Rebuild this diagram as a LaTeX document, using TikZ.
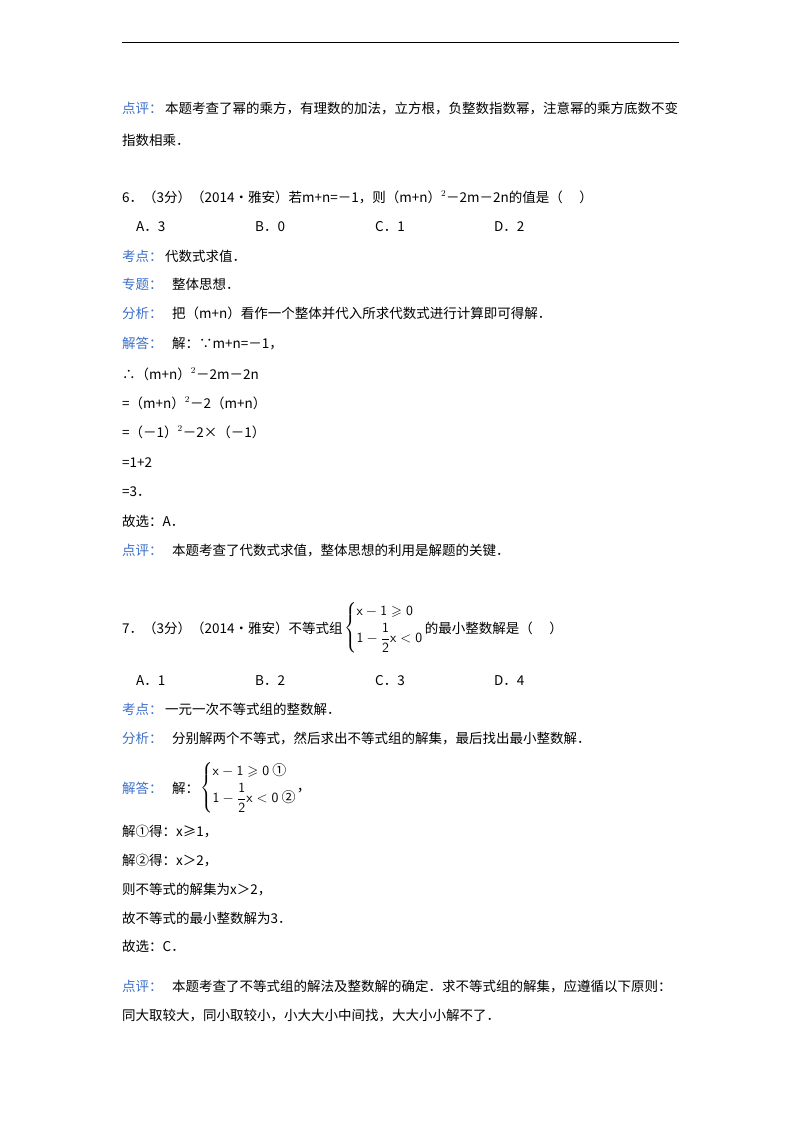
\documentclass[tikz,border=0pt]{standalone}
\usepackage{amsmath,amssymb}
\usepackage{fontspec}
\setmainfont{Noto Sans CJK SC}
\definecolor{lbl}{RGB}{60,110,200}
\begin{document}
\begin{tikzpicture}[x=1pt,y=-1pt,
  t/.style={anchor=base west,inner sep=0pt,font=\fontsize{13.5}{16}\selectfont},
  b/.style={t,text=lbl},
  sys/.style={inner sep=0pt,anchor=west,font=\fontsize{14}{17}\selectfont}]
\useasboundingbox (0,0) rectangle (800,1132);
\draw[line width=1pt] (122,43) -- (679,43);
\node[b] (l1) at (122,113) {点评：};
\node[t] (t1) at (165,113) {本题考查了幂的乘方，有理数的加法，立方根，负整数指数幂，注意幂的乘方底数不变};
\node[t] (t1b) at (122,145) {指数相乘．};
\node[t] (q6) at (122,202) {6．（3分）（2014•雅安）若m+n=－1，则（m+n）$^{2}$－2m－2n的值是（\quad\ ）};
\node[t] (a6) at (136,231) {A．3};
\node[t] (b6) at (255,231) {B．0};
\node[t] (c6) at (375,231) {C．1};
\node[t] (d6) at (494,231) {D．2};
\node[b] (k6) at (122,261) {考点：};
\node[t] (k6t) at (165,261) {代数式求值．};
\node[b] (z6) at (122,289) {专题：};
\node[t] (z6t) at (172,289) {整体思想．};
\node[b] (f6) at (122,318) {分析：};
\node[t] (f6t) at (172,318) {把（m+n）看作一个整体并代入所求代数式进行计算即可得解．};
\node[b] (j6) at (122,348) {解答：};
\node[t] (j6t) at (172,348) {解：∵m+n=－1，};
\node[t] (r1) at (122,379) {∴（m+n）$^{2}$－2m－2n};
\node[t] (r2) at (122,408) {=（m+n）$^{2}$－2（m+n）};
\node[t] (r3) at (122,437) {=（－1）$^{2}$－2×（－1）};
\node[t] (r4) at (122,467) {=1+2};
\node[t] (r5) at (122,496) {=3．};
\node[t] (r6) at (122,526) {故选：A．};
\node[b] (p6) at (122,555) {点评：};
\node[t] (p6t) at (172,555) {本题考查了代数式求值，整体思想的利用是解题的关键．};
\node[t] (q7) at (122,633) {7．（3分）（2014•雅安）不等式组};
\node[sys] (s7) at ([xshift=1pt]q7.east |- 0,628)
  {$\left\{\begin{array}{@{}l@{}}\mathsf{x-1\geqslant 0}\\[3pt] \mathsf{1-\dfrac{1}{2}x<0}\end{array}\right.$};
\node[t] (q7b) at ([xshift=1pt]s7.east |- q7.base) {的最小整数解是（\quad\ ）};
\node[t] (a7) at (136,685) {A．1};
\node[t] (b7) at (255,685) {B．2};
\node[t] (c7) at (375,685) {C．3};
\node[t] (d7) at (494,685) {D．4};
\node[b] (k7) at (122,714) {考点：};
\node[t] (k7t) at (165,714) {一元一次不等式组的整数解．};
\node[b] (f7) at (122,743) {分析：};
\node[t] (f7t) at (172,743) {分别解两个不等式，然后求出不等式组的解集，最后找出最小整数解．};
\node[b] (j7) at (122,793) {解答：};
\node[t] (j7t) at (172,793) {解：};
\node[sys] (s7b) at (200,788)
  {$\left\{\begin{array}{@{}l@{}}\mathsf{x-1\geqslant 0}\ \text{①}\\[3pt] \mathsf{1-\dfrac{1}{2}x<0}\ \text{②}\end{array}\right.$，};
\node[t] (e1) at (122,836) {解①得：x≥1，};
\node[t] (e2) at (122,865) {解②得：x＞2，};
\node[t] (e3) at (122,894) {则不等式的解集为x＞2，};
\node[t] (e4) at (122,923) {故不等式的最小整数解为3．};
\node[t] (e5) at (122,951) {故选：C．};
\node[b] (p7) at (122,991) {点评：};
\node[t] (p7t) at (172,991) {本题考查了不等式组的解法及整数解的确定．求不等式组的解集，应遵循以下原则：};
\node[t] (p7u) at (122,1020) {同大取较大，同小取较小，小大大小中间找，大大小小解不了．};
\end{tikzpicture}
\end{document}
